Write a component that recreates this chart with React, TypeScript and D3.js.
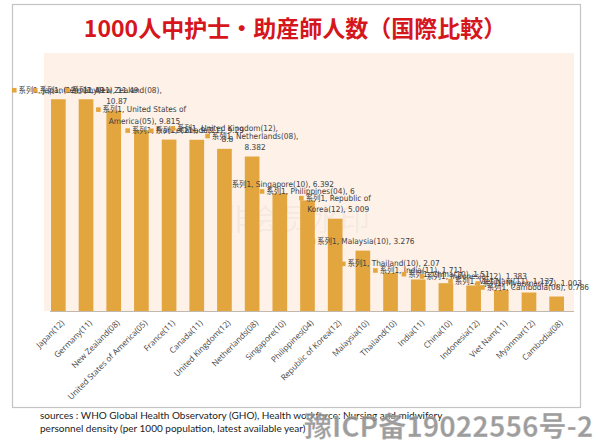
import React from "react";
import * as d3 from "d3";

// ---- data ----
const categories: string[] = [
  "Japan(12)",
  "Germany(11)",
  "New Zealand(08)",
  "United States of America(05)",
  "France(11)",
  "Canada(11)",
  "United Kingdom(12)",
  "Netherlands(08)",
  "Singapore(10)",
  "Philippines(04)",
  "Republic of Korea(12)",
  "Malaysia(10)",
  "Thailand(10)",
  "India(11)",
  "China(10)",
  "Indonesia(12)",
  "Viet Nam(11)",
  "Myanmar(12)",
  "Cambodia(08)",
];
const values: number[] = [
  11.49, 11.49, 10.87, 9.815, 9.3, 9.29, 8.8, 8.382, 6.392, 6, 5.009, 3.276,
  2.07, 1.711, 1.51, 1.383, 1.137, 1.003, 0.786,
];
const seriesName = "系列1";
const yDomain: [number, number] = [0, 14];
const titleText = "1000人中护士・助産師人数（国際比較）";
const sourceLines: string[] = [
  "sources : WHO Global Health Observatory (GHO),   Health workforce: Nursing and midwifery",
  "personnel density (per 1000 population,   latest available year)",
];
const watermarkCenter = "非会员水印";
const watermarkICP = "豫ICP备19022556号-2";

// ---- layout / style ----
const W = 594;
const H = 444;
const plot = { left: 44, right: 574, top: 53, bottom: 311 };
const barColor = "#E3A63F";
const plotBg = "#FDF1E8";
const labelFontSize = 8.2;
const labelSX = 0.9;
const labelLH = 11.5;
const keySize = 4.6;
const maxChars = 26;
const labelMaxRight = 589;

let _ctx: CanvasRenderingContext2D | null = null;
function measure(s: string): number {
  if (!_ctx) {
    const c = document.createElement("canvas");
    _ctx = c.getContext("2d");
  }
  if (!_ctx) return s.length * labelFontSize * 0.55;
  _ctx.font = `${labelFontSize}px "DejaVu Sans", "Noto Sans CJK SC", sans-serif`;
  return _ctx.measureText(s).width;
}

function wrapLabel(text: string): string[] {
  const words = text.split(" ");
  const lines: string[] = [];
  let cur = "";
  for (const w of words) {
    const test = cur ? cur + " " + w : w;
    if (test.length > maxChars && cur) {
      lines.push(cur);
      cur = w;
    } else cur = test;
  }
  if (cur) lines.push(cur);
  return lines;
}

export default function App() {
  const x = d3
    .scaleBand<string>()
    .domain(categories)
    .range([44.5, 570.5])
    .paddingInner(0.47)
    .paddingOuter(0.235);
  const y = d3.scaleLinear().domain(yDomain).range([plot.bottom, plot.top]);

  return (
    <div style={{ position: "absolute", left: 0, top: 0 }}>
      <svg width={W} height={H} style={{ display: "block" }}>
        <rect x={0} y={0} width={W} height={H} fill="#ffffff" />
        {/* frame */}
        <rect
          x={12.5}
          y={4.5}
          width={568}
          height={403}
          fill="#ffffff"
          stroke="#c4c4c4"
          strokeWidth={1.2}
        />
        {/* title */}
        <text
          x={295}
          y={27}
          textAnchor="middle"
          dominantBaseline="central"
          fontFamily='"Noto Sans CJK JP", "Noto Sans CJK SC", sans-serif'
          fontWeight={700}
          fontSize={23}
          fill="#D5161D"
        >
          {titleText}
        </text>
        {/* plot background */}
        <rect
          x={plot.left}
          y={plot.top}
          width={plot.right - plot.left}
          height={plot.bottom - plot.top}
          fill={plotBg}
        />
        {/* faint watermark */}
        <text
          x={295}
          y={217}
          textAnchor="middle"
          dominantBaseline="central"
          fontFamily='"Noto Sans CJK SC", sans-serif'
          fontSize={30}
          fill="#000"
          fillOpacity={0.05}
        >
          {watermarkCenter}
        </text>
        {/* bars */}
        {values.map((v, i) => (
          <rect
            key={categories[i]}
            x={x(categories[i])}
            y={y(v)}
            width={x.bandwidth()}
            height={y(0) - y(v)}
            fill={barColor}
          />
        ))}
        {/* axis line */}
        <line
          x1={50}
          x2={plot.right}
          y1={y(0) + 0.5}
          y2={y(0) + 0.5}
          stroke="#c2b8ae"
          strokeWidth={1}
        />
        {/* x tick labels */}
        {categories.map((c) => {
          const cx = (x(c) as number) + x.bandwidth() / 2;
          return (
            <text
              key={c}
              transform={`translate(${cx + 4},${y(0) + 10}) rotate(-45)`}
              textAnchor="end"
              dominantBaseline="central"
              fontFamily='"Open Sans", sans-serif'
              fontSize={8.2}
              fill="#444"
            >
              {c}
            </text>
          );
        })}
        {/* data labels */}
        {values.map((v, i) => {
          const c = categories[i];
          const cx = (x(c) as number) + x.bandwidth() / 2;
          const top = y(v);
          const lines = wrapLabel(`${seriesName}, ${c}, ${v}`);
          const widths = lines.map((ln) => measure(ln) * labelSX);
          const maxW = Math.max(...widths);
          let lx = cx + 3;
          if (lx + maxW / 2 > labelMaxRight) lx = labelMaxRight - maxW / 2;
          const lastY = top - 9;
          const firstY = lastY - (lines.length - 1) * labelLH;
          const w1 = widths[0];
          return (
            <g key={"lbl" + c}>
              <rect
                x={lx - w1 / 2 - 2 - keySize}
                y={firstY - keySize / 2}
                width={keySize}
                height={keySize}
                fill={barColor}
              />
              {lines.map((ln, j) => (
                <text
                  key={j}
                  transform={`translate(${lx},${firstY + j * labelLH}) scale(${labelSX},1)`}
                  textAnchor="middle"
                  dominantBaseline="central"
                  fontFamily='"DejaVu Sans", "Noto Sans CJK SC", sans-serif'
                  fontSize={labelFontSize}
                  fill="#404040"
                >
                  {ln}
                </text>
              ))}
            </g>
          );
        })}
        {/* sources */}
        {sourceLines.map((s, i) => (
          <text
            key={i}
            x={40}
            y={419 + i * 13}
            fontFamily='"Lato", "Open Sans", sans-serif'
            fontSize={10}
            fill="#222"
          >
            {s}
          </text>
        ))}
        {/* ICP watermark */}
        <text
          x={304}
          y={425}
          dominantBaseline="central"
          fontFamily='"Noto Sans CJK SC", sans-serif'
          fontWeight={700}
          fontSize={28}
          fill="#8c8c8c"
          fillOpacity={0.85}
          stroke="#ffffff"
          strokeOpacity={0.5}
          strokeWidth={0.6}
        >
          {watermarkICP}
        </text>
      </svg>
    </div>
  );
}
